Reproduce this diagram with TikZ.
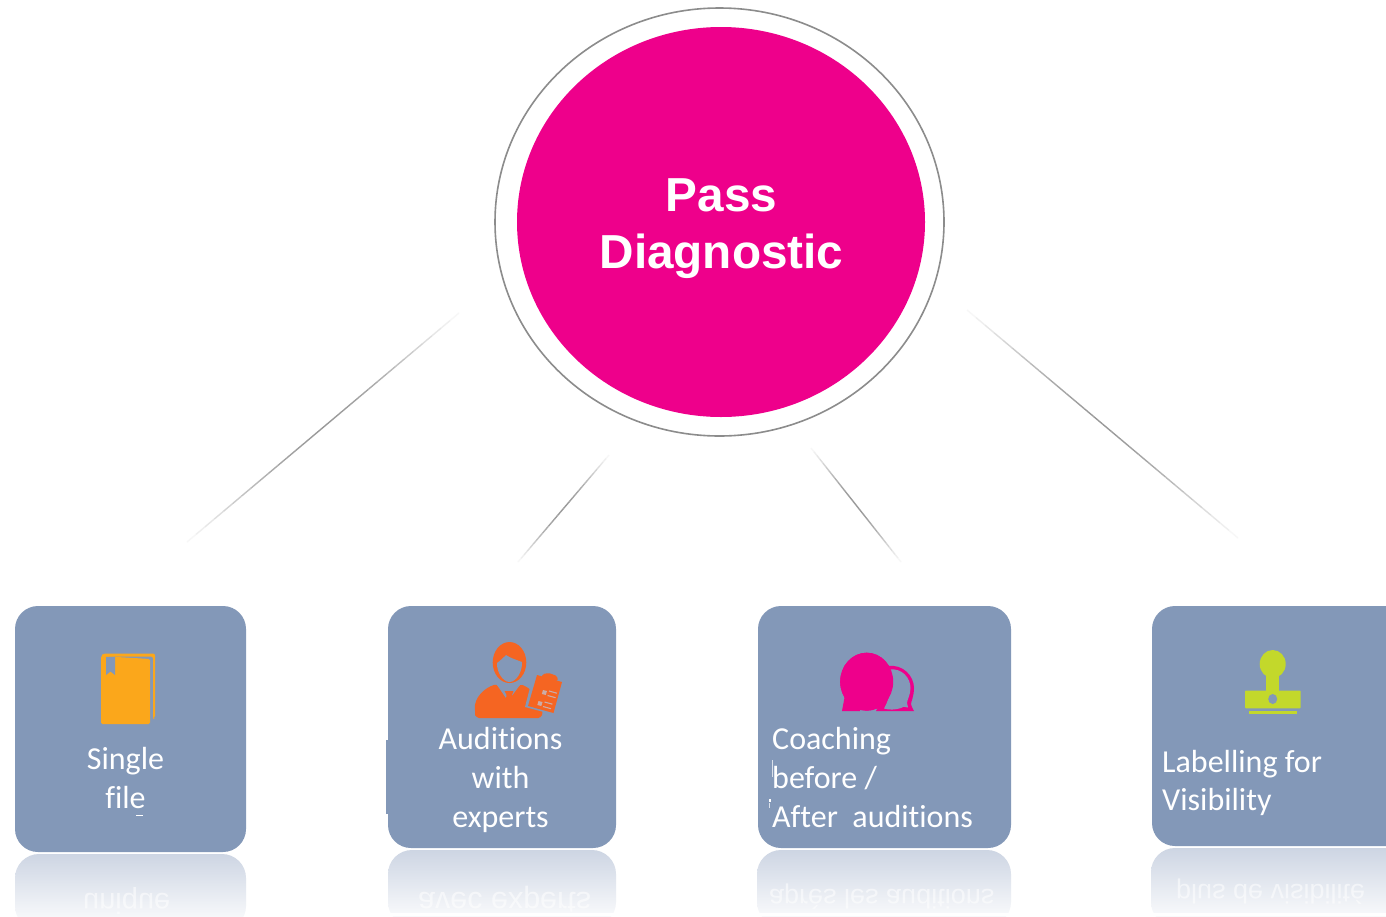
\documentclass[tikz,border=0pt]{standalone}
\usepackage{fontspec}
\setmainfont{Carlito}[Ligatures=NoCommon]
\newfontfamily\headfont{Liberation Sans}
\usetikzlibrary{calc,shapes.geometric}
\definecolor{boxblue}{HTML}{8398B8}
\definecolor{hubpink}{HTML}{EE008B}
\definecolor{bookor}{HTML}{FBA71B}
\definecolor{manor}{HTML}{F56522}
\definecolor{stampg}{HTML}{C3D82B}
\definecolor{reftop}{HTML}{CDD5E3}
\tikzset{
 cardbox/.style={fill=boxblue,draw=none,rounded corners=23pt},
 cardlabel/.style={text=white,inner sep=0pt,font=\fontsize{32}{38.6}\selectfont},
 mirrorbox/.style={top color=reftop,bottom color=white,draw=none,rounded corners=24pt},
 mirrortext/.style={yscale=-1,transform shape,text=white,text opacity=.55,inner sep=0pt,anchor=base west},
}
\newcommand{\fadeline}[2]{%
 \foreach \i in {1,...,30}{%
  \pgfmathsetmacro{\t}{(\i-1)/30}%
  \pgfmathsetmacro{\u}{\i/30}%
  \pgfmathsetmacro{\k}{38*sin(180*((\i-.5)/30))^1.2+2}%
  \draw[line width=1.4pt,black!\k!white] ($(#1)!\t!(#2)$) -- ($(#1)!\u!(#2)$);}}
\begin{document}
\begin{tikzpicture}[x=1pt,y=-1pt,line cap=butt]
\clip (0,0) rectangle (1386,916);
\fill[white] (0,0) rectangle (1386,916);
% hub
\node[ellipse,draw=black!45,line width=1.6pt,minimum width=449pt,minimum height=428pt,inner sep=0pt] (ring) at (719.5,222) {};
\node[ellipse,fill=hubpink,minimum width=408pt,minimum height=390pt,inner sep=0pt] (hub) at (721,222) {};
\node[text=white,align=center,inner sep=0pt,font=\headfont\bfseries\fontsize{47.7}{57}\selectfont] (hubtext) at (721.5,229) {Pass\\Diagnostic};
% connectors
\coordinate (l1a) at (459,313); \coordinate (l1b) at (187,542);
\coordinate (l2a) at (609,455); \coordinate (l2b) at (518,562);
\coordinate (l3a) at (811,448); \coordinate (l3b) at (901,562);
\coordinate (l4a) at (967,310); \coordinate (l4b) at (1238,538);
\fadeline{l1a}{l1b}\fadeline{l2a}{l2b}\fadeline{l3a}{l3b}\fadeline{l4a}{l4b}
% reflections
\shade[mirrorbox] (15,854) rectangle (246,930);
\shade[mirrorbox] (388,850) rectangle (616,926);
\shade[mirrorbox] (757,850) rectangle (1011,926);
\shade[mirrorbox] (1151,848) rectangle (1420,926);
\fill[white] (300,913) rectangle (1386,916);
\node[mirrortext,font=\headfont\fontsize{29}{30}\selectfont] (m1) at (83,893.5) {unique};
\node[mirrortext,font=\headfont\fontsize{30.5}{30}\selectfont] (m2) at (418,892) {avec experts};
\node[mirrortext,font=\headfont\fontsize{27}{30}\selectfont] (m3) at (769,889) {après les auditions};
\node[mirrortext,font=\headfont\fontsize{27}{30}\selectfont] (m4) at (1176,884) {plus de visibilité};
% cards
\path[cardbox] (15,606) rectangle (246,852);
\path[cardbox] (388,606) rectangle (616,848);
\fill[boxblue] (386,740) rectangle (392,814);
\path[cardbox] (758,606) rectangle (1011,848);
\path[cardbox] (1152,606) rectangle (1430,846);
% labels
\node[cardlabel,align=center] (t1) at (125.5,778) {Single\\file};
\fill[white] (136,814.5) rectangle (143,815.5);
\node[cardlabel,align=center] (t2) at (500.5,780) {Auditions\\with\\experts};
\node[cardlabel,align=left,anchor=west] (t3) at (772,777.5) {Coaching\\before /\\After\ \ auditions};
\fill[white!70!boxblue] (772,760) rectangle (773,777);
\fill[white] (768.5,799) rectangle (770.5,802);
\fill[white!70!boxblue] (768.5,803) rectangle (770,808);
\node[cardlabel,align=left,anchor=west] (t4) at (1162,783) {Labelling for\\Visibility};
% book
\fill[bookor,rounded corners=2pt] (101,710) -- (101,656) -- (103,653.5) -- (155,653.5) -- (155,718) -- (153,719) -- (153,656.5) -- (104,656.5) -- cycle;
\fill[bookor,rounded corners=1.5pt] (101,656) -- (150,659) -- (150,724) -- (101,724) -- cycle;
\fill[boxblue] (106,657) -- (115,657) -- (115,675) -- (110.5,671.5) -- (106,675) -- cycle;
% person
\fill[manor] (509.5,662.5) ellipse (16.8 and 20.5);
\fill[boxblue] (497,663) .. controls (501,660) and (503,658) .. (506,655) .. controls (510,658) and (517,660) .. (522,662)
 .. controls (522.5,672) and (516,682) .. (509.5,682) .. controls (503,682) and (496.5,672) .. (497,663) -- cycle;
\fill[manor,rounded corners=3pt] (475,712) .. controls (474,698) and (484,688) .. (497,684) -- (508,700) -- (520,684)
 .. controls (530,688) and (538,695) .. (543,712) -- (541,718) -- (482,718) .. controls (478,718) and (475,716) .. (475,712) -- cycle;
\draw[boxblue,line width=1.1pt] (497,684) -- (508,700) -- (520,684);
\fill[manor] (504.5,691) -- (513.5,691) -- (512,695) -- (513.5,707) -- (509,710) -- (505,707) -- (506.5,695) -- cycle;
\draw[boxblue,line width=1pt] (504,690.5) -- (514,690.5);
\fill[boxblue] (534,672) -- (564,680) -- (555,715) -- (525,707) -- cycle;
\fill[manor] (537,675) -- (562,682) -- (553.5,713) -- (528,706) -- cycle;
\fill[manor,rounded corners=1.5pt] (541,678) -- (543,674) -- (549,673) -- (557,676) -- (558,681) -- cycle;
\fill[white!55!manor!60!boxblue] (543,690) -- (547,691) -- (545.8,695) -- (541.8,694) -- cycle;
\fill[white!55!manor!60!boxblue] (538.5,701) -- (542.5,702) -- (541.3,706) -- (537.3,705) -- cycle;
\draw[white!55!manor!60!boxblue,line width=1.1pt] (549,691) -- (557,693.2) (547.6,695.5) -- (555.6,697.7) (544.5,702) -- (552.5,704.2) (543,706.5) -- (551,708.7);
% bubbles
\begin{scope}
\clip (830,640) rectangle (930,711);
\fill[hubpink] (866.7,681.7) ellipse (26.5 and 29);
\fill[hubpink] (842,711) -- (845,695) -- (860,705) -- (860,711) -- cycle;
\fill[hubpink] (888,666) .. controls (903,664) and (914,676) .. (914,688) .. controls (914,696) and (911,702) .. (911,704) .. controls (912,708) and (913,709) .. (914,711) -- (876,711) .. controls (882,700) and (890,680) .. (888,666) -- cycle;
\fill[boxblue] (890,669.5) .. controls (902,668) and (910.5,678) .. (910.5,688) .. controls (910.5,695) and (907,700) .. (907,703) .. controls (907.5,705) and (908,707) .. (908,707.5) .. controls (904,707) and (902,706) .. (901,708) .. controls (895,710) and (889,710) .. (884,708.5) .. controls (890,698) and (894,682) .. (890,669.5) -- cycle;
\fill[hubpink] (866.7,681.7) ellipse (26.5 and 29);
\end{scope}
% stamp
\fill[stampg] (1272.7,664) ellipse (13 and 14);
\fill[stampg] (1266,672) rectangle (1279.4,692);
\fill[stampg,rounded corners=.8pt] (1245,690.5) rectangle (1300.7,708.3);
\fill[boxblue] (1272.7,699) ellipse (4.5 and 5);
\fill[stampg] (1249,710.7) rectangle (1296.7,713.8);
\end{tikzpicture}
\end{document}
